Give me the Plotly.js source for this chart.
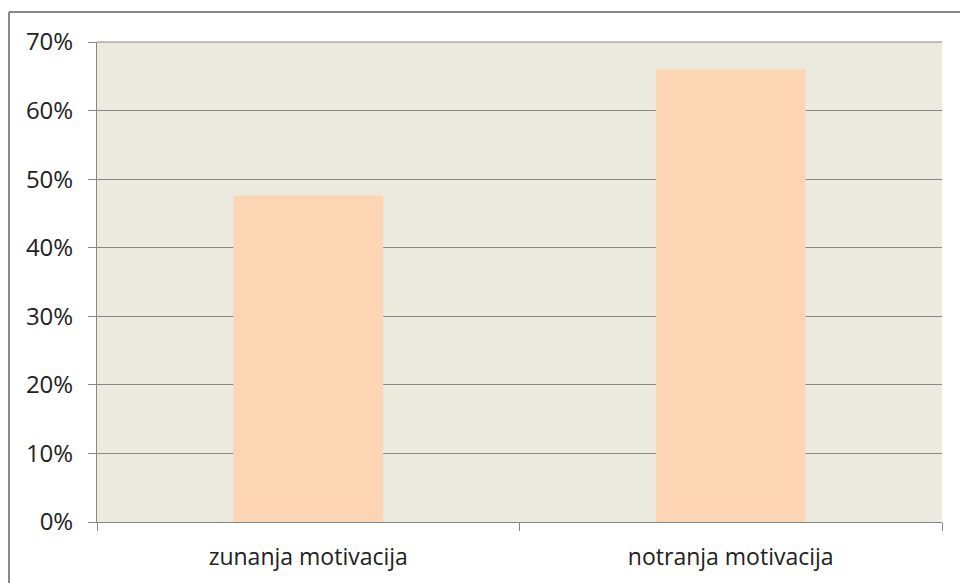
<!DOCTYPE html>
<html>
<head>
<meta charset="utf-8">
<script src="https://cdn.plot.ly/plotly-3.0.1.min.js"></script>
<style>body{margin:0;background:#fff}#chart{width:960px;height:583px}</style>
</head>
<body>
<div id="chart"></div>
<script>
const categories = ["zunanja motivacija", "notranja motivacija"];
const values = [0.476, 0.66];

const pxL = 97, pxR = 942, pxT = 42, pxB = 522;
const W = pxR - pxL, H = pxB - pxT;

const trace = {
  type: 'bar',
  x: categories,
  y: values,
  marker: {color: '#FCD5B5', line: {width: 0}},
  hoverinfo: 'x+y'
};

const layout = {
  width: 960, height: 583,
  margin: {l: pxL, r: 960 - pxR, t: pxT, b: 583 - pxB, pad: 0},
  paper_bgcolor: '#ffffff',
  plot_bgcolor: '#ECE9DF',
  bargap: 0.645,
  showlegend: false,
  font: {family: '"Open Sans", sans-serif', size: 21, color: '#222'},
  xaxis: {
    type: 'category',
    showgrid: false,
    showline: true, linecolor: '#868686', linewidth: 1,
    ticks: 'outside', tickson: 'boundaries', ticklen: 8, tickcolor: '#868686',
    ticklabelstandoff: 14,
    tickfont: {size: 23},
    zeroline: false
  },
  yaxis: {
    range: [0, 0.7],
    dtick: 0.1, tick0: 0,
    tickformat: '.0%',
    showgrid: true, gridcolor: '#868686', gridwidth: 1,
    showline: true, linecolor: '#868686', linewidth: 1,
    ticks: 'outside', ticklen: 8, tickcolor: '#868686',
    ticklabelstandoff: 10,
    tickfont: {size: 24},
    zeroline: false
  },
  shapes: [
    {type: 'line', xref: 'paper', yref: 'paper',
     x0: (9 - pxL) / W, x1: (1000 - pxL) / W, y0: (pxB - 12) / H, y1: (pxB - 12) / H,
     line: {color: '#898989', width: 2}},
    {type: 'line', xref: 'paper', yref: 'paper',
     x0: (9 - pxL) / W, x1: (9 - pxL) / W, y0: (pxB - 12) / H, y1: (pxB - 620) / H,
     line: {color: '#898989', width: 2}},
    {type: 'line', xref: 'paper', yref: 'paper',
     x0: 0, x1: 1, y0: 1, y1: 1, layer: 'below',
     line: {color: '#868686', width: 1}}
  ]
};

Plotly.newPlot('chart', [trace], layout, {displayModeBar: false, staticPlot: true});
</script>
</body>
</html>
